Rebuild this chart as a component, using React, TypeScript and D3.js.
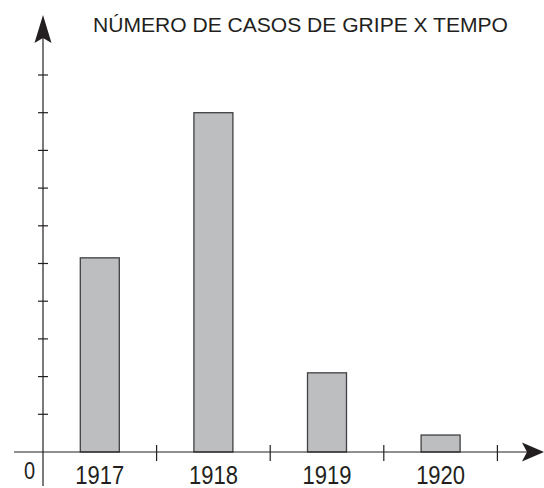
import React, { useEffect, useRef } from 'react';
import * as d3 from 'd3';

const years = ['1917', '1918', '1919', '1920'];
const cases = [5.15, 9, 2.1, 0.45];
const yTicks = [1, 2, 3, 4, 5, 6, 7, 8, 9, 10];
const title = 'NÚMERO DE CASOS DE GRIPE X TEMPO';

const App = () => {
  const svgRef = useRef<SVGSVGElement>(null);

  useEffect(() => {
    const width = 544;
    const height = 488;
    const x0 = 43; // y-axis position
    const y0 = 452; // x-axis position

    const svg = d3.select(svgRef.current);
    svg.selectAll('*').remove();

    const x = d3
      .scaleBand()
      .domain(years)
      .range([x0, x0 + 4 * 113.6])
      .paddingInner(0)
      .paddingOuter(0);

    const y = d3.scaleLinear().domain([0, 10]).range([y0, y0 - 377]);

    const font = 'Liberation Sans, Arial, sans-serif';
    const ink = '#231f20';

    // bars
    const barW = 39;
    svg
      .append('g')
      .selectAll('rect')
      .data(years)
      .join('rect')
      .attr('x', (d) => x(d)! + x.bandwidth() / 2 - barW / 2)
      .attr('y', (d, i) => y(cases[i]))
      .attr('width', barW)
      .attr('height', (d, i) => y0 - y(cases[i]))
      .attr('fill', '#bcbec0')
      .attr('stroke', '#414042')
      .attr('stroke-width', 1.3);

    // y axis line
    svg
      .append('line')
      .attr('x1', x0)
      .attr('x2', x0)
      .attr('y1', 486)
      .attr('y2', 30)
      .attr('stroke', ink)
      .attr('stroke-width', 1.2);

    // x axis line
    svg
      .append('line')
      .attr('x1', 14)
      .attr('x2', 530)
      .attr('y1', y0)
      .attr('y2', y0)
      .attr('stroke', ink)
      .attr('stroke-width', 1.2);

    // y ticks
    svg
      .append('g')
      .selectAll('line')
      .data(yTicks)
      .join('line')
      .attr('x1', x0 - 5)
      .attr('x2', x0 + 5)
      .attr('y1', (d) => y(d))
      .attr('y2', (d) => y(d))
      .attr('stroke', ink)
      .attr('stroke-width', 1.2);

    // x ticks at band edges
    const edges = years.slice(1).map((d) => x(d)!).concat([x(years[3])! + x.bandwidth()]);
    svg
      .append('g')
      .selectAll('line')
      .data(edges)
      .join('line')
      .attr('x1', (d) => d)
      .attr('x2', (d) => d)
      .attr('y1', y0 - 7)
      .attr('y2', y0 + 9)
      .attr('stroke', ink)
      .attr('stroke-width', 1.2);

    // arrow heads
    svg
      .append('path')
      .attr('d', `M${x0},15 L${x0 + 8.5},43 L${x0},38 L${x0 - 8.5},43 Z`)
      .attr('fill', ink);
    svg
      .append('path')
      .attr('d', `M544,${y0} L522,${y0 - 9.5} L527,${y0} L522,${y0 + 9.5} Z`)
      .attr('fill', ink);

    // year labels
    svg
      .append('g')
      .selectAll('text')
      .data(years)
      .join('text')
      .attr('transform', (d) => `translate(${x(d)! + x.bandwidth() / 2},484) scale(1,1.17)`)
      .attr('text-anchor', 'middle')
      .attr('font-family', font)
      .attr('font-size', 22)
      .attr('fill', ink)
      .text((d) => d);

    svg
      .append('text')
      .attr('transform', 'translate(29.5,479) scale(1,1.2)')
      .attr('text-anchor', 'middle')
      .attr('font-family', font)
      .attr('font-size', 20)
      .attr('fill', ink)
      .text('0');

    svg
      .append('text')
      .attr('x', 93)
      .attr('y', 31.7)
      .attr('font-family', font)
      .attr('font-size', 19.5)
      .attr('textLength', 415)
      .attr('lengthAdjust', 'spacingAndGlyphs')
      .attr('fill', ink)
      .text(title);

    svg.attr('width', width).attr('height', height);
  }, []);

  return (
    <svg
      ref={svgRef}
      style={{ position: 'absolute', left: 0, top: 0, background: '#fff' }}
    ></svg>
  );
};

export default App;
